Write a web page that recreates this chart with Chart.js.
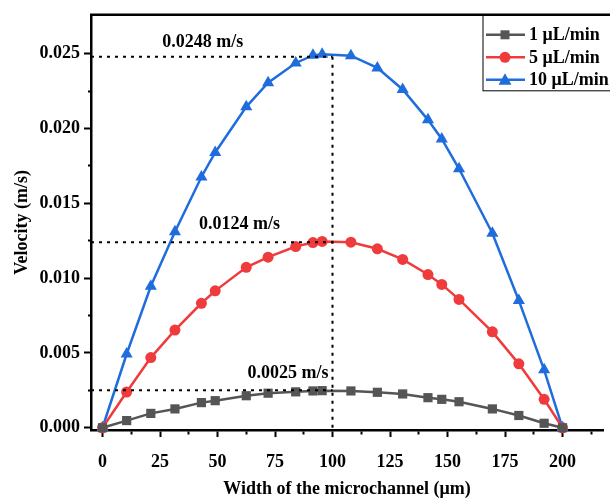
<!DOCTYPE html>
<html>
<head>
<meta charset="utf-8">
<script src="https://cdn.jsdelivr.net/npm/chart.js@4"></script>
<style>
    html, body { margin: 0; padding: 0; background: #fff; }
    #wrap { width: 610px; height: 500px; position: relative; }
</style>
</head>
<body>
<div id="wrap"><canvas id="velocityChart"></canvas></div>
<script>
// positions across the channel (um), shared by all three series
const widthPositions = [0, 10.5, 21, 31.5, 43, 49, 62.5, 72, 84, 91.5, 95.5, 108, 119.5, 130.5, 141.5, 147.5, 155, 169.5, 181, 192, 200];

const flow1 = [0, 0.00048, 0.00096, 0.00126, 0.00168, 0.00181, 0.00214, 0.00231, 0.00240, 0.00246, 0.00248,
    0.00246, 0.00237, 0.00226, 0.00201, 0.00190, 0.00174, 0.00126, 0.00082, 0.00030, 0];
const flow5 = [0, 0.00239, 0.00469, 0.00653, 0.00832, 0.00915, 0.01072, 0.01140, 0.01211, 0.01238, 0.01245,
    0.01240, 0.01196, 0.01125, 0.01024, 0.00958, 0.00858, 0.00641, 0.00427, 0.00190, 0];
const flow10 = [0, 0.00493, 0.00946, 0.01310, 0.01676, 0.01840, 0.02145, 0.02306, 0.02438, 0.02489, 0.02497,
    0.02487, 0.02405, 0.02261, 0.02058, 0.01930, 0.01731, 0.01300, 0.00851, 0.00387, 0];

const seriesNames = ['1 \u03bcL/min', '5 \u03bcL/min', '10 \u03bcL/min'];

const xTicks = [0, 12.5, 25, 37.5, 50, 62.5, 75, 87.5, 100, 112.5, 125, 137.5, 150, 162.5, 175, 187.5, 200, 212.5];
const yTicks = [0, 0.0025, 0.005, 0.0075, 0.01, 0.0125, 0.015, 0.0175, 0.02, 0.0225, 0.025];

// peak markers: dotted guides at the channel centre
const centreX = 100;
const peakValues = [0.0248, 0.0124, 0.0025];
const peakLabels = ['0.0248 m/s', '0.0124 m/s', '0.0025 m/s'];

const FONT = "'Liberation Serif', 'Times New Roman', serif";

const toPoints = ys => widthPositions.map((x, i) => ({ x: x, y: ys[i] }));

const isMajorX = v => Math.abs(v % 25) < 1e-6;
const isMajorY = v => Math.abs(Math.round(v * 10000) % 50) < 1e-6;

// top frame line, dotted guides with labels, and the boxed legend
const decorations = {
    id: 'decorations',
    afterDatasetsDraw(chart) {
        const ctx = chart.ctx;
        const area = chart.chartArea;
        const xs = chart.scales.x;
        const ys = chart.scales.y;

        ctx.save();
        ctx.strokeStyle = '#000';
        ctx.lineWidth = 2;
        ctx.setLineDash([3, 5]);
        const cx = xs.getPixelForValue(centreX);
        peakValues.forEach(v => {
            const py = ys.getPixelForValue(v);
            ctx.beginPath();
            ctx.moveTo(area.left, py);
            ctx.lineTo(cx, py);
            ctx.stroke();
        });
        ctx.beginPath();
        ctx.moveTo(cx, ys.getPixelForValue(Math.max(...peakValues)));
        ctx.lineTo(cx, area.bottom);
        ctx.stroke();
        ctx.setLineDash([]);

        // label anchors (x in data units) and lift above the line in px
        const labelX = [26, 42, 63];
        const lift = [5, 9, 8];
        ctx.fillStyle = '#000';
        ctx.font = 'bold 18px ' + FONT;
        ctx.textAlign = 'left';
        ctx.textBaseline = 'bottom';
        peakLabels.forEach((t, i) => {
            ctx.fillText(t, xs.getPixelForValue(labelX[i]), ys.getPixelForValue(peakValues[i]) - lift[i]);
        });

        // top border of the frame
        ctx.lineWidth = 2.5;
        ctx.beginPath();
        ctx.moveTo(area.left - 1, area.top);
        ctx.lineTo(chart.width, area.top);
        ctx.stroke();

        // legend box
        const bx = 483, by = area.top, bh = 76, rowH = 22.5;
        ctx.lineWidth = 1;
        ctx.strokeRect(bx, by, 200, bh);
        ctx.font = 'bold 18px ' + FONT;
        chart.data.datasets.forEach((ds, i) => {
            const ry = by + 20 + i * rowH;
            ctx.strokeStyle = ds.borderColor;
            ctx.lineWidth = 2.5;
            ctx.beginPath();
            ctx.moveTo(bx + 3, ry);
            ctx.lineTo(bx + 42, ry);
            ctx.stroke();
            ctx.fillStyle = ds.backgroundColor;
            const mx = bx + 22;
            ctx.beginPath();
            if (ds.pointStyle === 'rect') {
                ctx.rect(mx - 4.5, ry - 4.5, 9, 9);
            } else if (ds.pointStyle === 'circle') {
                ctx.arc(mx, ry, 5.5, 0, Math.PI * 2);
            } else {
                ctx.moveTo(mx, ry - 6.5);
                ctx.lineTo(mx + 6.5, ry + 5);
                ctx.lineTo(mx - 6.5, ry + 5);
                ctx.closePath();
            }
            ctx.fill();
            ctx.fillStyle = '#000';
            ctx.textBaseline = 'middle';
            ctx.fillText(ds.label, bx + 46, ry + 1);
        });
        ctx.restore();
    }
};

const ctx = document.getElementById('velocityChart').getContext('2d');
const chart = new Chart(ctx, {
    type: 'line',
    data: {
        datasets: [
            {
                label: seriesNames[0],
                data: toPoints(flow1),
                borderColor: '#555555',
                backgroundColor: '#555555',
                pointStyle: 'rect',
                pointRadius: 6.5,
                pointBorderWidth: 0
            },
            {
                label: seriesNames[1],
                data: toPoints(flow5),
                borderColor: '#ef3b3b',
                backgroundColor: '#ef3b3b',
                pointStyle: 'circle',
                pointRadius: 5.5,
                pointBorderWidth: 0
            },
            {
                label: seriesNames[2],
                data: toPoints(flow10),
                borderColor: '#1f6ddc',
                backgroundColor: '#1f6ddc',
                pointStyle: 'triangle',
                pointRadius: 7,
                pointBorderWidth: 0
            }
        ]
    },
    options: {
        responsive: true,
        maintainAspectRatio: false,
        animation: false,
        events: [],
        layout: { padding: { left: 0, top: 12, right: 0, bottom: 0 } },
        datasets: {
            line: { borderWidth: 2.5, tension: 0, clip: false, fill: false }
        },
        plugins: {
            legend: { display: false },
            tooltip: { enabled: false }
        },
        scales: {
            x: {
                type: 'linear',
                min: -5,
                max: 217.6,
                afterBuildTicks: scale => { scale.ticks = xTicks.map(v => ({ value: v })); },
                afterFit: scale => { scale.height = 70; },
                border: { display: true, color: '#000', width: 2.5 },
                grid: {
                    drawOnChartArea: false,
                    tickLength: 7,
                    tickWidth: 2,
                    tickColor: '#000',
                    tickBorderDash: c => (c.tick && isMajorX(c.tick.value)) ? [] : [3, 20]
                },
                ticks: {
                    color: '#000',
                    maxRotation: 0,
                    autoSkip: false,
                    padding: 15,
                    font: { family: FONT, size: 18, weight: 'bold' },
                    callback: v => isMajorX(v) ? String(v) : ''
                },
                title: {
                    display: true,
                    text: 'Width of the microchannel (\u03bcm)',
                    color: '#000',
                    padding: { top: 0, bottom: 0 },
                    font: { family: FONT, size: 18, weight: 'bold' }
                }
            },
            y: {
                type: 'linear',
                min: -0.00015,
                max: 0.0276,
                afterBuildTicks: scale => { scale.ticks = yTicks.map(v => ({ value: v })); },
                afterFit: scale => { scale.width = 91; },
                border: { display: true, color: '#000', width: 2.5 },
                grid: {
                    drawOnChartArea: false,
                    tickLength: 7,
                    tickWidth: 2,
                    tickColor: '#000',
                    tickBorderDash: c => (c.tick && isMajorY(c.tick.value)) ? [] : [0, 4, 3, 20]
                },
                ticks: {
                    color: '#000',
                    autoSkip: false,
                    padding: 4,
                    font: { family: FONT, size: 18, weight: 'bold' },
                    callback: v => isMajorY(v) ? v.toFixed(3) : ''
                },
                title: {
                    display: true,
                    text: 'Velocity (m/s)',
                    color: '#000',
                    padding: { top: 12, bottom: 0 },
                    font: { family: FONT, size: 18, weight: 'bold' }
                }
            }
        }
    },
    plugins: [decorations]
});
</script>
</body>
</html>
